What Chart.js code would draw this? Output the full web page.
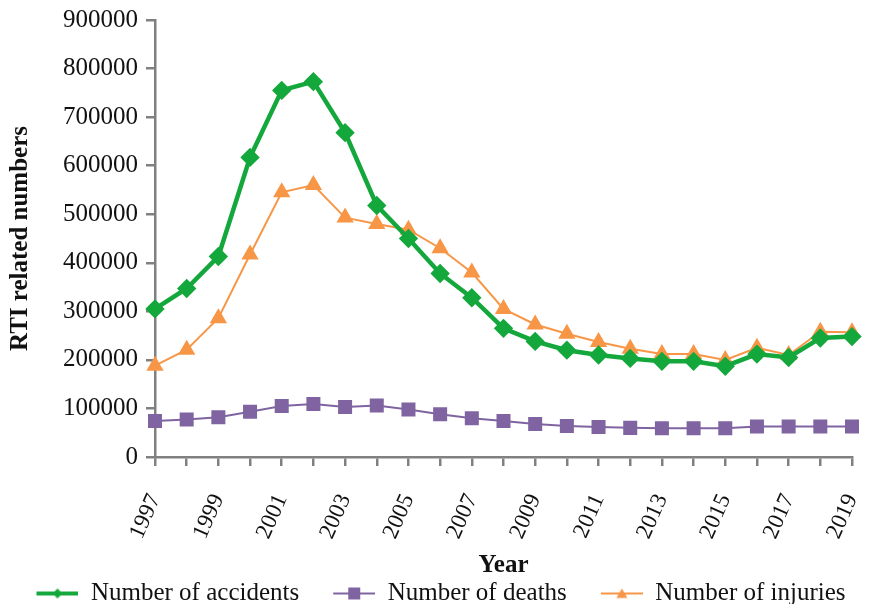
<!DOCTYPE html>
<html>
<head>
<meta charset="utf-8">
<script src="https://cdn.jsdelivr.net/npm/chart.js@4/dist/chart.umd.min.js"></script>
<style>
  html, body { margin: 0; padding: 0; background: #fff; }
  #wrap { width: 871px; height: 604px; }
</style>
</head>
<body>
<div id="wrap"><canvas id="grafico" width="871" height="604"></canvas></div>
<script>
const years = ["1997","1998","1999","2000","2001","2002","2003","2004","2005","2006","2007","2008",
  "2009","2010","2011","2012","2013","2014","2015","2016","2017","2018","2019"];

const accidents = [305000, 347000, 413000, 617000, 755000, 773000, 668000, 518000, 450000, 378000,
  328000, 265000, 238000, 220000, 210000, 203000, 197000, 197000, 187000, 212000, 205000, 245000, 248000];

const deaths = [74000, 77000, 82000, 93000, 105000, 109000, 103000, 106000, 98000, 88000, 80000,
  74000, 68000, 64000, 62000, 60000, 59000, 59000, 59000, 63000, 63000, 63000, 63000];

const injuries = [188000, 221000, 286000, 417000, 545000, 560000, 493000, 480000, 468000, 430000,
  380000, 305000, 273000, 254000, 237000, 223000, 212000, 212000, 200000, 225000, 210000, 258000, 257000];

const yTicks = [0, 100000, 200000, 300000, 400000, 500000, 600000, 700000, 800000, 900000];

const FONT = "'Liberation Serif', 'Times New Roman', serif";
const GREEN = "#14a83c", PURPLE = "#8064a2", ORANGE = "#f79646", AXIS = "#808080";

// legend icon: line with small marker, transparent space on the left gives the gap between items
function iconLinha(cor, estilo, largura) {
  const c = document.createElement("canvas");
  c.width = 72; c.height = 16;
  const g = c.getContext("2d");
  const x0 = 30, x1 = 72, cx = 51;
  g.strokeStyle = cor; g.lineWidth = largura;
  g.beginPath(); g.moveTo(x0, 8); g.lineTo(x1, 8); g.stroke();
  g.fillStyle = cor;
  g.beginPath();
  if (estilo === "rectRot") { g.moveTo(cx, 3); g.lineTo(cx + 5, 8); g.lineTo(cx, 13); g.lineTo(cx - 5, 8); }
  else if (estilo === "rect") { g.rect(cx - 6, 2, 12, 12); }
  else { g.moveTo(cx, 3); g.lineTo(cx + 5.5, 12.5); g.lineTo(cx - 5.5, 12.5); }
  g.closePath(); g.fill();
  return c;
}

new Chart(document.getElementById("grafico"), {
  type: "line",
  data: {
    labels: years,
    datasets: [
      { label: "Number of accidents", data: accidents, borderColor: GREEN, backgroundColor: GREEN,
        borderWidth: 4.5, pointStyle: "rectRot", pointRadius: 6.5, pointHoverRadius: 6.5, tension: 0 },
      { label: "Number of deaths", data: deaths, borderColor: PURPLE, backgroundColor: PURPLE,
        borderWidth: 2, pointStyle: "rect", pointRadius: 8.5, pointHoverRadius: 8.5, tension: 0 },
      { label: "Number of injuries", data: injuries, borderColor: ORANGE, backgroundColor: ORANGE,
        borderWidth: 2, pointStyle: "triangle", pointRadius: 8, pointHoverRadius: 8, tension: 0 }
    ]
  },
  options: {
    responsive: false,
    animation: false,
    layout: { padding: { left: 0, right: 19, top: 20, bottom: -12 } },
    plugins: {
      tooltip: { enabled: false },
      legend: {
        position: "bottom",
        labels: {
          font: { family: FONT, size: 25 },
          color: "#111",
          usePointStyle: true,
          pointStyleWidth: 72,
          boxHeight: 16,
          padding: 4,
          generateLabels: chart => chart.data.datasets.map((ds, i) => ({
            text: ds.label,
            pointStyle: iconLinha(ds.borderColor, ds.pointStyle, i === 0 ? 4 : 2),
            fillStyle: ds.borderColor,
            strokeStyle: ds.borderColor,
            lineWidth: 0,
            fontColor: "#111",
            datasetIndex: i
          }))
        }
      }
    },
    scales: {
      x: {
        afterFit: axis => { axis.height = 120; axis.paddingLeft = 0; axis.paddingRight = 0; },
        grid: { display: true, drawOnChartArea: false, drawTicks: true, tickLength: 9, color: AXIS, lineWidth: 2.5 },
        border: { display: true, color: AXIS, width: 2.5 },
        ticks: {
          autoSkip: false,
          minRotation: 66,
          maxRotation: 66,
          color: "#111",
          font: { family: FONT, size: 23 },
          padding: 24,
          callback: (v, i) => (i % 2 === 0 ? years[i] : "")
        },
        title: { display: true, text: "Year", color: "#111", font: { family: FONT, size: 25, weight: "bold" }, padding: { top: 0, bottom: -4 } }
      },
      y: {
        min: 0,
        max: 900000,
        afterBuildTicks: axis => { axis.ticks = yTicks.map(v => ({ value: v })); },
        afterFit: axis => { axis.width = 155; axis.paddingTop = 0; axis.paddingBottom = 0; },
        grid: { display: true, drawOnChartArea: false, drawTicks: true, tickLength: 9, color: AXIS, lineWidth: 2.5 },
        border: { display: true, color: AXIS, width: 2.5 },
        ticks: {
          color: "#111",
          font: { family: FONT, size: 25 },
          padding: 8,
          callback: v => String(v)
        },
        title: { display: true, text: "RTI related numbers", color: "#111", font: { family: FONT, size: 25, weight: "bold" }, padding: { top: 6, bottom: 0 } }
      }
    }
  }
});
</script>
</body>
</html>
